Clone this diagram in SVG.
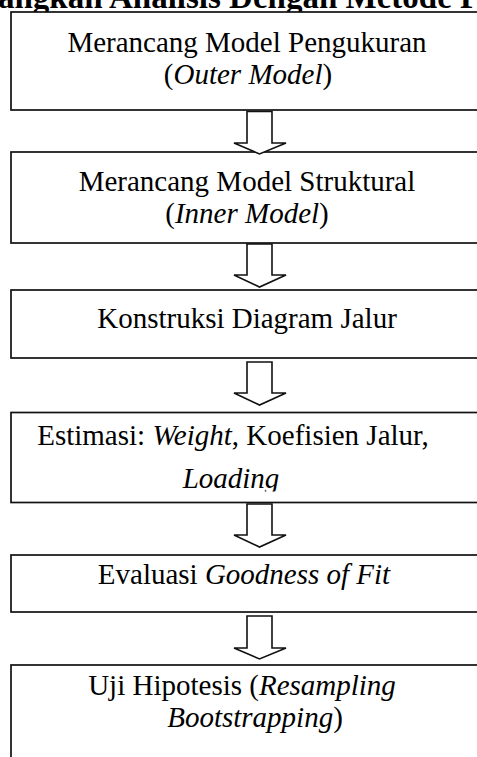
<svg xmlns="http://www.w3.org/2000/svg" width="477" height="757" viewBox="0 0 477 757">
<style>
.box{fill:#fff;stroke:#111;stroke-width:1.7}
.arr{fill:#fff;stroke:#111;stroke-width:1.6;stroke-linejoin:miter}
.t{font-family:"Liberation Serif","Times New Roman",serif;font-size:29px;fill:#000;text-anchor:middle}
.i{font-style:italic}
.title{font-family:"Liberation Serif","Times New Roman",serif;font-size:33px;font-weight:bold;fill:#000}
</style>
<defs>
<clipPath id="c4"><rect x="0" y="412" width="477" height="79.5"/></clipPath>
</defs>
<rect width="477" height="757" fill="#fff"/>
<text class="title" x="-24" y="8">Langkah Analisis Dengan Metode P</text>
<g id="n1">
<rect class="box" x="11" y="12" width="480" height="98"/>
<text class="t" x="247" y="52">Merancang Model Pengukuran</text>
<text class="t" x="248" y="84">(<tspan class="i">Outer Model</tspan>)</text>
</g>
<g id="n2">
<rect class="box" x="11" y="152" width="480" height="91"/>
<text class="t" x="247" y="191">Merancang Model Struktural</text>
<text class="t" x="247" y="223">(<tspan class="i">Inner Model</tspan>)</text>
</g>
<g id="n3">
<rect class="box" x="11" y="290" width="480" height="68"/>
<text class="t" x="247" y="328">Konstruksi Diagram Jalur</text>
</g>
<g id="n4">
<rect class="box" x="11" y="412.5" width="480" height="90"/>
<g clip-path="url(#c4)">
<text class="t" x="233" y="445">Estimasi: <tspan class="i">Weight</tspan>, Koefisien Jalur,</text>
<text class="t i" x="231" y="488">Loading</text>
</g>
</g>
<g id="n5">
<rect class="box" x="11" y="555" width="480" height="57"/>
<text class="t" x="244" y="584">Evaluasi <tspan class="i">Goodness of Fit</tspan></text>
</g>
<g id="n6">
<rect class="box" x="11" y="665" width="480" height="110"/>
<text class="t" x="242" y="695">Uji Hipotesis (<tspan class="i">Resampling</tspan></text>
<text class="t" x="255" y="727"><tspan class="i">Bootstrapping</tspan>)</text>
</g>
<g id="connectors">
<path class="arr" d="M247,111.5 H272 V143 H286 L259.5,154 L234,143 H247 Z"/>
<path class="arr" d="M247,244 H272 V275 H286 L259.5,287 L234,275 H247 Z"/>
<path class="arr" d="M247,362 H272 V393 H286 L259.5,405 L234,393 H247 Z"/>
<path class="arr" d="M247,504 H272 V535 H286 L259.5,547 L234,535 H247 Z"/>
<path class="arr" d="M247,616 H272 V648 H286 L259.5,659 L234,648 H247 Z"/>
</g>
</svg>
